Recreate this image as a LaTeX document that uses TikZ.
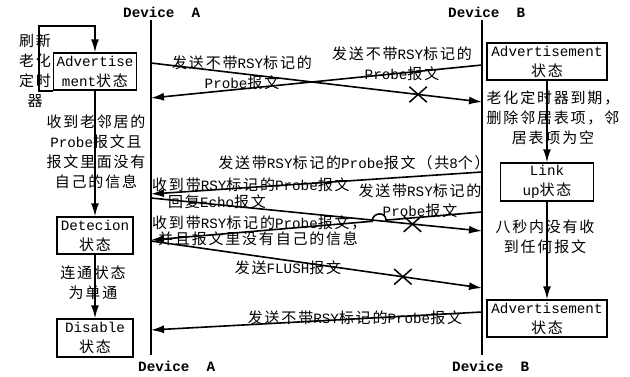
\documentclass[tikz,border=0pt]{standalone}
\usepackage{fontspec}
\setmainfont{Noto Sans CJK SC}[LetterSpace=12]
\newfontfamily\mono[Scale=0.95]{Liberation Mono}
\usetikzlibrary{arrows.meta,calc,shapes.misc}
\newcommand\en[1]{{\mono #1}}
\tikzset{
 every node/.style={inner sep=0pt, font=\fontsize{15}{20}\selectfont},
 box/.style={draw, line width=1.5pt, align=center, inner sep=0pt},
 lbl/.style={align=center},
 life/.style={line width=1.5pt},
 msg/.style={line width=1.6pt, -{Latex[length=13pt,width=8pt]}},
 lost/.style={draw, cross out, line width=1.5pt, minimum width=16pt, minimum height=14pt},
 dev/.style={font=\fontsize{15}{18}\selectfont\mono\bfseries},
}
\begin{document}
\begin{tikzpicture}[x=1pt,y=-1pt]
\fill[white] (0,0) rectangle (630,376);
\useasboundingbox (0,0) rectangle (630,376);

% lifelines
\coordinate (At) at (151,20); \coordinate (Ab) at (151,355);
\coordinate (Bt) at (482,20); \coordinate (Bb) at (482,355);
\draw[life] (At) -- (Ab);
\draw[life] (Bt) -- (Bb);
\node[dev, anchor=west] (dA1) at (123,12) {Device\ \ A};
\node[dev, anchor=west] (dB1) at (448,12) {Device\ \ B};
\node[dev, anchor=west] (dA2) at (138,366) {Device\ \ A};
\node[dev, anchor=west] (dB2) at (452,366) {Device\ \ B};

% left column
\node[box, minimum width=83pt, minimum height=37pt] (advA) at (95,71.5) {\en{Advertise}\\\en{ment}状态};
\node[box, minimum width=76pt, minimum height=37pt] (det) at (95,235.5) {\en{Detecion}\\状态};
\node[box, minimum width=76pt, minimum height=38pt] (dis) at (95,338) {\en{Disable}\\状态};
\draw[msg] (advA.south west) -- ++(-14,0) |- ($(advA.north)+(0,-26)$) -- (advA.north);
\draw[msg] (advA.south) -- (det.north);
\draw[msg] (det.south) -- (dis.north);
\node[lbl] (lRefresh) at (35,71) {刷新\\老化\\定时\\器};
\node[lbl] (lOld) at (96,152) {收到老邻居的\\\en{Probe}报文且\\报文里面没有\\自己的信息};
\node[lbl] (lConn) at (93,283) {连通状态\\为单通};

% right column
\node[box, minimum width=120pt, minimum height=37pt] (advB) at (547,61.5) {\en{Advertisement}\\状态};
\node[box, minimum width=93pt, minimum height=38pt] (link) at (547,182) {\en{Link}\\\en{up}状态};
\node[box, minimum width=120pt, minimum height=37pt] (advB2) at (547,318.5) {\en{Advertisement}\\状态};
\draw[msg] (advB.south) -- (link.north);
\draw[msg] (link.south) -- (advB2.north);
\node[lbl] (lAge) at (553,118) {老化定时器到期，\\删除邻居表项，邻\\居表项为空};
\node[lbl] (lEight) at (545,237) {八秒内没有收\\到任何报文};

% messages
\coordinate (m1s) at (151,63);  \coordinate (m1e) at (482,102);
\coordinate (m2s) at (482,65);  \coordinate (m2e) at (151,98);
\coordinate (m3s) at (482,172); \coordinate (m3e) at (151,194);
\coordinate (m4s) at (151,198); \coordinate (m4e) at (482,231);
\coordinate (m5s) at (482,212); \coordinate (m5e) at (151,240);
\coordinate (m6s) at (151,241); \coordinate (m6e) at (482,288);
\coordinate (m7s) at (482,312); \coordinate (m7e) at (151,330);
\coordinate (h1) at ($(m5s)!0.290!(m5e)$);
\coordinate (h2) at ($(m5s)!0.332!(m5e)$);

\draw[msg] (m1s) -- (m1e);
\draw[msg] (m2s) -- (m2e);
\draw[msg] (m3s) -- (m3e);
\draw[msg] (m4s) -- (m4e);
\draw[msg] (m5s) -- (h1) .. controls +(0,-9) and +(0,-9) .. (h2) -- (m5e);
\draw[msg] (m6s) -- (m6e);
\draw[msg] (m7s) -- (m7e);
\path (m1s) -- (m1e) node[lost, pos=0.807] (x1) {};
\path (m4s) -- (m4e) node[lost, pos=0.79] (x2) {};
\path (m6s) -- (m6e) node[lost, pos=0.761] (x3) {};

% message labels
\node[lbl] (l1) at (242,72.5) {发送不带\en{RSY}标记的\\\en{Probe}报文};
\node[lbl] (l2) at (402,64) {发送不带\en{RSY}标记的\\\en{Probe}报文};
\node[lbl] (l3) at (354,163) {发送带\en{RSY}标记的\en{Probe}报文（共\en{8}个）};
\node[anchor=west] (l4) at (152,185) {收到带\en{RSY}标记的\en{Probe}报文};
\node[anchor=west] (l5) at (168,202) {回复\en{Echo}报文};
\node[lbl] (l6) at (420,201) {发送带\en{RSY}标记的\\\en{Probe}报文};
\node[anchor=west] (l7) at (152,223) {收到带\en{RSY}标记的\en{Probe}报文，};
\node[anchor=west] (l8) at (158,239) {并且报文里没有自己的信息};
\node[lbl] (l9) at (288,268) {发送\en{FLUSH}报文};
\node[lbl] (l10) at (355,318) {发送不带\en{RSY}标记的\en{Probe}报文};
\end{tikzpicture}
\end{document}
